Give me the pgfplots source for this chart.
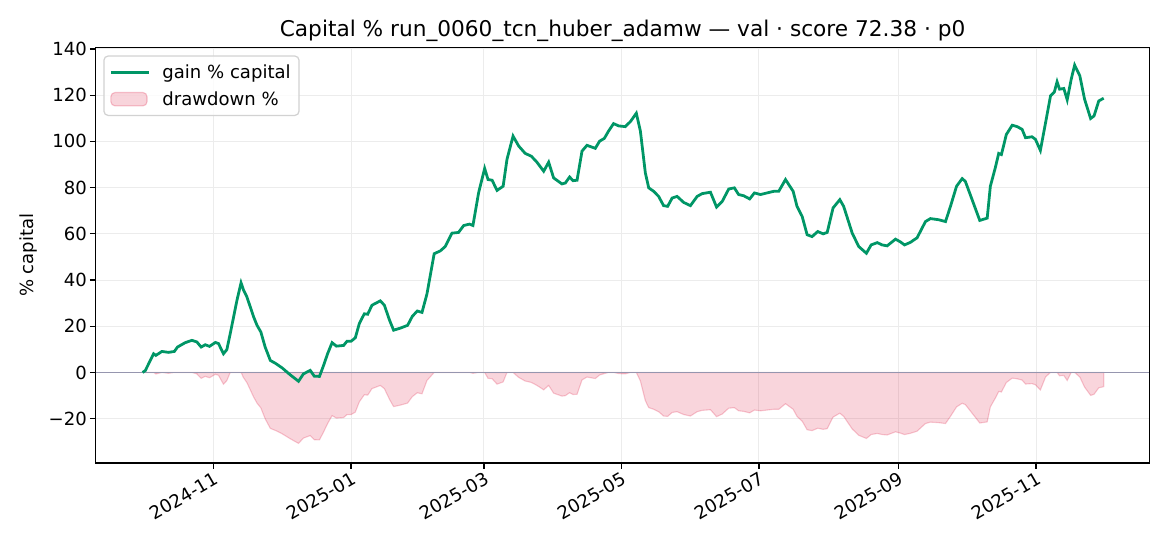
\documentclass[border=0pt]{standalone}
\usepackage{fontspec}
\setmainfont{DejaVu Sans}
\usepackage{pgfplots}
\pgfplotsset{compat=1.18}
\usepackage{pgfplotstable}
\definecolor{gaingreen}{RGB}{0,150,102}
\definecolor{crimson}{RGB}{220,20,60}
\definecolor{zeroline}{RGB}{150,150,175}
\definecolor{gridgray}{RGB}{236,236,236}
\definecolor{legendedge}{RGB}{210,210,210}
\pgfplotstableread{
d g dd
-31.5 0 0
-30.3 0.8 0
-26.6 8.1 0
-25.6 7.4 -0.65
-22.9 9.1 0
-20.0 8.7 -0.37
-17.4 9.1 0
-16.0 11.0 0
-12.6 12.9 0
-9.6 13.9 0
-7.4 13.2 -0.61
-5.5 11.0 -2.55
-3.7 12.0 -1.67
-1.8 11.3 -2.28
0.8 13.0 -0.79
2.2 12.5 -1.23
4.4 8.1 -5.09
5.9 9.9 -3.51
7.4 16.8 0
10.4 31.3 0
12.2 38.8 0
13.3 35.7 -2.23
14.8 32.7 -4.39
17.8 24.0 -10.66
19.3 20.4 -13.26
21.0 17.5 -15.35
22.9 11.0 -20.03
25.2 5.2 -24.21
27.4 4.0 -25.07
30.4 2.0 -26.51
34.0 -1.0 -28.67
37.7 -3.8 -30.69
39.9 -0.6 -28.39
42.9 0.9 -27.31
44.7 -1.6 -29.11
47.0 -1.7 -29.18
48.8 3.0 -25.79
50.6 8.1 -22.12
52.6 12.9 -18.66
54.5 11.4 -19.74
57.7 11.7 -19.52
59.2 13.5 -18.23
61.0 13.5 -18.23
62.9 15.0 -17.15
64.7 21.2 -12.68
66.9 25.4 -9.65
68.4 25.2 -9.80
70.3 29.1 -6.99
74.0 31.0 -5.62
75.8 29.1 -6.99
78.1 22.6 -11.67
79.9 18.3 -14.77
82.9 19.2 -14.12
86.1 20.4 -13.26
88.2 24.3 -10.45
90.4 26.6 -8.79
92.5 26.0 -9.22
94.7 34.0 -3.46
97.9 51.4 0
100.6 52.6 0
102.8 54.5 0
105.8 60.3 0
108.7 60.6 0
111.0 63.6 0
113.6 64.2 0
115.1 63.6 -0.37
117.6 77.7 0
120.3 88.3 0
121.8 83.5 -2.55
123.6 83.2 -2.71
125.8 78.8 -5.05
128.5 80.6 -4.09
130.2 92.2 0
132.9 102.3 0
135.4 98.0 -2.13
138.3 94.8 -3.71
141.0 93.6 -4.30
143.5 91.0 -5.59
146.5 87.1 -7.51
148.7 91.0 -5.59
150.9 84.2 -8.95
154.6 81.6 -10.23
156.1 82.0 -10.03
158.0 84.6 -8.75
159.5 83.0 -9.54
161.3 83.2 -9.44
163.5 95.8 -3.21
165.7 98.3 -1.98
169.4 97.0 -2.62
171.3 100.1 -1.09
173.4 101.3 -0.49
175.3 104.5 0
177.5 107.7 0
179.8 106.7 -0.48
182.7 106.4 -0.63
185.0 108.6 0
187.6 112.2 0
189.4 104.5 -3.63
191.6 86.4 -12.16
193.1 79.9 -15.22
195.3 78.4 -15.93
197.5 76.2 -16.97
199.7 72.2 -18.85
201.5 71.9 -18.99
203.5 75.5 -17.30
205.7 76.2 -16.97
208.6 73.6 -18.19
211.6 72.2 -18.85
214.6 76.2 -16.97
216.8 77.4 -16.40
220.5 78.0 -16.12
223.2 71.6 -19.13
225.7 74.0 -18.00
228.6 79.4 -15.46
231.1 79.9 -15.22
233.0 77.0 -16.59
235.2 76.5 -16.82
237.9 75.1 -17.48
240.0 77.7 -16.26
242.7 77.0 -16.59
245.6 77.7 -16.26
248.6 78.4 -15.93
250.8 78.4 -15.93
253.8 83.5 -13.52
257.2 78.4 -15.93
258.9 71.9 -18.99
261.2 67.5 -21.07
263.4 59.6 -24.79
265.6 58.8 -25.16
268.1 61.0 -24.13
270.5 60.0 -24.60
272.3 60.6 -24.32
274.9 71.2 -19.32
277.9 74.8 -17.62
279.6 71.9 -18.99
283.4 60.3 -24.46
286.3 54.5 -27.19
289.7 51.6 -28.56
291.8 55.2 -26.86
294.5 56.2 -26.39
296.7 55.2 -26.86
298.9 54.8 -27.05
302.6 57.7 -25.68
304.8 56.5 -26.25
306.6 55.2 -26.86
309.2 56.3 -26.34
312.2 58.3 -25.40
315.9 65.3 -22.10
318.1 66.6 -21.49
321.8 66.1 -21.72
324.8 65.3 -22.10
327.0 71.9 -18.99
329.7 80.6 -14.89
332.2 83.9 -13.34
333.6 82.7 -13.90
336.6 74.8 -17.62
340.0 65.8 -21.87
343.3 66.8 -21.39
344.7 80.6 -14.89
346.9 88.6 -11.12
348.4 94.8 -8.20
349.6 94.3 -8.44
351.8 103.0 -4.34
354.4 107.0 -2.45
356.6 106.4 -2.73
358.8 105.2 -3.30
360.3 101.6 -5.00
363.2 102.0 -4.81
364.7 100.9 -5.33
366.9 96.1 -7.59
369.2 108.1 -1.93
371.4 119.7 0
373.1 121.4 0
374.3 125.8 0
375.4 122.6 -1.42
377.3 122.9 -1.28
378.8 118.0 -3.45
380.6 127.0 0
382.1 133.0 0
384.4 128.4 -1.97
386.5 118.3 -6.31
389.2 109.9 -9.91
390.7 111.0 -9.44
392.8 117.5 -6.65
395.0 118.7 -6.14
}\data

\begin{document}
\begin{tikzpicture}
\useasboundingbox (-68.9pt,-59.8pt) rectangle (773.5pt,333.4pt);
\begin{axis}[
  at={(0,0)}, anchor=south west,
  scale only axis, width=758.7pt, height=299.3pt,
  xmin=-52.3, xmax=415.3, ymin=-39.2, ymax=140.7,
  xtick={0,61,120,181,242,304,365},
  xticklabels={2024-11,2025-01,2025-03,2025-05,2025-07,2025-09,2025-11},
  ytick={-20,0,20,40,60,80,100,120,140},
  yticklabels={−20,0,20,40,60,80,100,120,140},
  tick label style={font=\fontsize{13}{15}\selectfont},
  xticklabel style={rotate=30, anchor=north east, inner sep=1pt},
  yticklabel style={anchor=east, inner sep=2pt},
  tick align=outside, tick pos=left,
  major tick length=4.2pt,
  major tick style={black, line width=0.9pt},
  axis line style={black, line width=0.9pt},
  grid=major, grid style={gridgray, line width=0.7pt},
  title={Capital \% run\_0060\_tcn\_huber\_adamw — val · score 72.38 · p0},
  title style={at={(0.5,1)}, anchor=base, yshift=2.1pt, font=\fontsize{15.6}{18}\selectfont},
  ylabel={\% capital},
  ylabel style={at={(axis description cs:-0.0642,0.5)}, anchor=center, font=\fontsize{13}{15}\selectfont},
  legend style={at={(0,1)}, anchor=north west, xshift=5.5pt, yshift=-5.8pt,
    draw=legendedge, line width=0.9pt, rounded corners=3pt, fill=white, fill opacity=0.8, text opacity=1,
    font=\fontsize{13}{15}\selectfont, inner xsep=4pt, inner ysep=4pt, row sep=4pt,
    /tikz/every odd column/.append style={column sep=6.5pt}},
  legend cell align=left,
]
\addlegendimage{legend image code/.code={\draw[gaingreen, line width=2pt] (0pt,0pt) -- (27.6pt,0pt);}}
\addlegendentry{gain \% capital}
\addlegendimage{legend image code/.code={\draw[fill=crimson, fill opacity=0.18, draw=crimson, draw opacity=0.25, line width=0.8pt] (0pt,-4.8pt) rectangle (26pt,4.8pt);}}
\addlegendentry{drawdown \%}
\addplot[fill=crimson, fill opacity=0.18, draw=crimson, draw opacity=0.22, line width=0.8pt, forget plot] table[x=d,y=dd]{\data} \closedcycle;
\addplot[zeroline, line width=1pt, forget plot] coordinates {(-52.3,0) (415.3,0)};
\addplot[gaingreen, line width=2pt, forget plot] table[x=d,y=g]{\data};
\end{axis}
\end{tikzpicture}
\end{document}
